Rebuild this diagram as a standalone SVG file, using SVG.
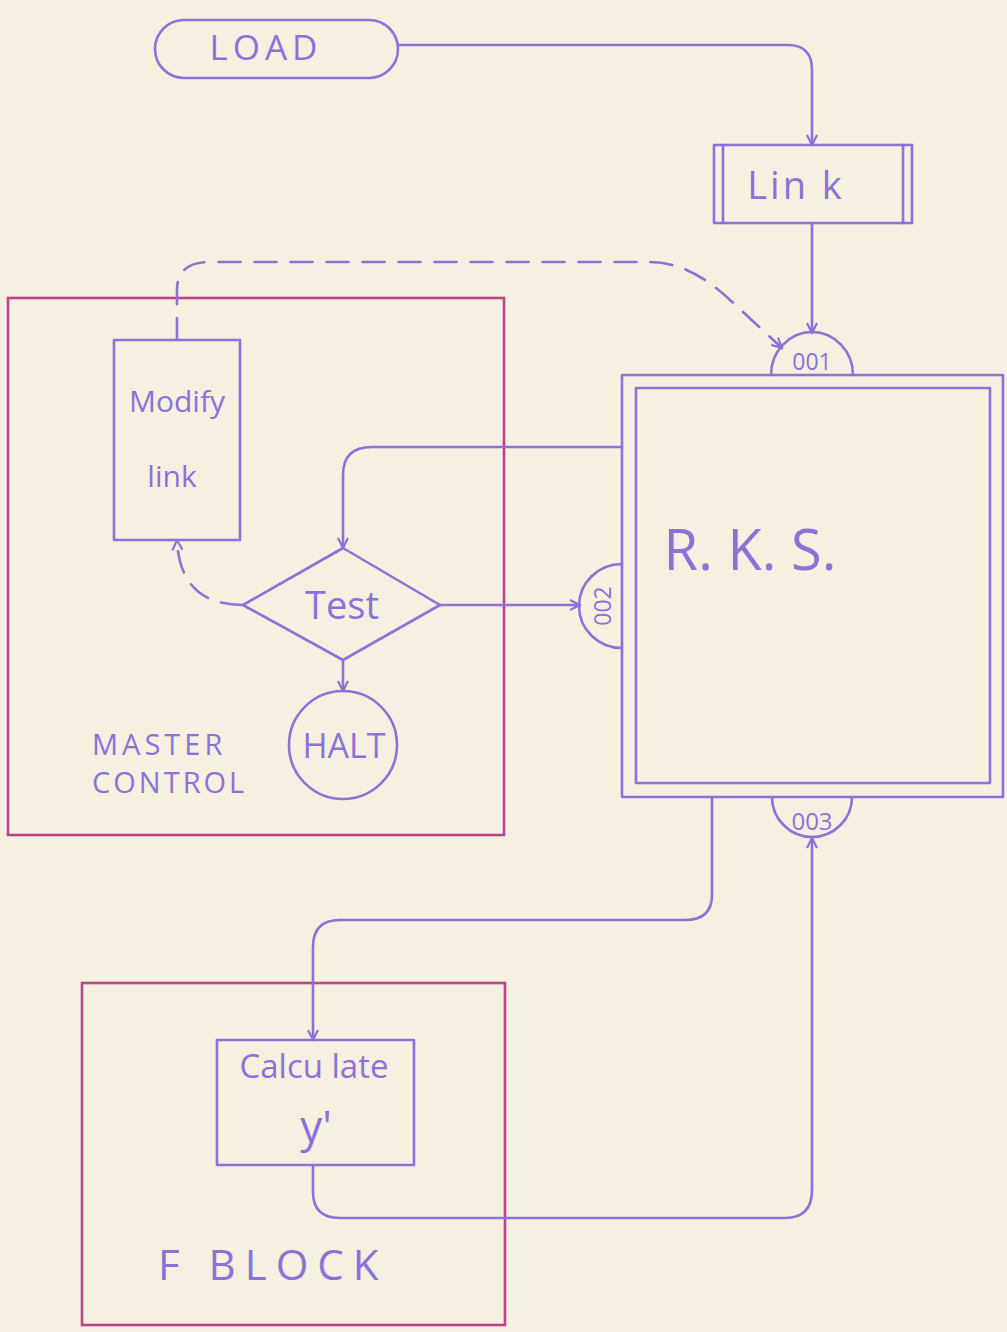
<svg xmlns="http://www.w3.org/2000/svg" width="1007" height="1332" viewBox="0 0 1007 1332">
<defs>
<style>
.p{fill:none;stroke:#8c72d8;stroke-width:2.6;stroke-linecap:round;stroke-linejoin:round}
.m{fill:none;stroke:#b8458a;stroke-width:2.6}
.d{fill:none;stroke:#8c72d8;stroke-width:2.6;stroke-dasharray:22 14;stroke-linecap:round}
.t{fill:#8c72d8;font-family:"Open Sans","DejaVu Sans",sans-serif}
</style>
<marker id="a" viewBox="0 0 12 12" refX="11" refY="6" markerWidth="12" markerHeight="12" markerUnits="userSpaceOnUse" orient="auto">
<path d="M1,1 L11,6 L1,11" fill="none" stroke="#8c72d8" stroke-width="2.2"/>
</marker>
</defs>
<rect width="1007" height="1332" fill="#f5f0df"/>

<g id="master-control">
<rect class="m" x="8" y="298" width="496" height="537"/>
<text class="t" x="92" y="755" font-size="29" letter-spacing="4">MASTER</text>
<text class="t" x="92" y="793" font-size="29" letter-spacing="3">CONTROL</text>
</g>
<g id="f-block">
<rect class="m" x="82" y="983" width="423" height="342"/>
<text class="t" x="158" y="1280" font-size="42" letter-spacing="9">F  BLOCK</text>
</g>

<g id="load">
<rect class="p" x="155" y="20" width="243" height="58" rx="29"/>
<text class="t" x="266" y="60" font-size="35" text-anchor="middle" letter-spacing="5">LOAD</text>
</g>
<g id="link">
<rect class="p" x="714" y="145" width="198" height="78"/>
<line class="p" x1="723" y1="145" x2="723" y2="223"/>
<line class="p" x1="903" y1="145" x2="903" y2="223"/>
<text class="t" x="796" y="199" font-size="38" text-anchor="middle" letter-spacing="3">Lin k</text>
</g>
<g id="modify-link">
<rect class="p" x="114" y="340" width="126" height="200"/>
<text class="t" x="177" y="412" font-size="30" text-anchor="middle">Modify</text>
<text class="t" x="172" y="487" font-size="30" text-anchor="middle">link</text>
</g>
<g id="test">
<path class="p" d="M243,605 L343,548 L440,605 L343,660 Z"/>
<text class="t" x="342" y="619" font-size="38" text-anchor="middle">Test</text>
</g>
<g id="halt">
<circle class="p" cx="343" cy="745" r="54"/>
<text class="t" x="344" y="758" font-size="34" text-anchor="middle">HALT</text>
</g>
<g id="rks">
<rect class="p" x="622" y="375" width="381" height="422"/>
<rect class="p" x="636" y="388" width="354" height="395"/>
<text class="t" x="750" y="570" font-size="56" text-anchor="middle">R. K. S.</text>
</g>
<g id="entry-001">
<path class="p" d="M771,375 A41,43 0 0 1 853,375"/>
<text class="t" x="812" y="370" font-size="23" text-anchor="middle">001</text>
</g>
<g id="entry-002">
<path class="p" d="M622,564 A43,42 0 0 0 622,648"/>
<text class="t" x="604" y="606" font-size="23" text-anchor="middle" transform="rotate(-90 604 606)" dy="7">002</text>
</g>
<g id="entry-003">
<path class="p" d="M772,797 A40,40 0 0 0 852,797"/>
<text class="t" x="812" y="830" font-size="24" text-anchor="middle">003</text>
</g>
<g id="calculate">
<rect class="p" x="217" y="1040" width="197" height="125"/>
<text class="t" x="314" y="1078" font-size="33" text-anchor="middle">Calcu late</text>
<text class="t" x="316" y="1142" font-size="44" text-anchor="middle">y'</text>
</g>

<g id="connectors">
<path class="p" marker-end="url(#a)" d="M398,45 L788,45 Q812,45 812,70 L812,145"/>
<path class="p" marker-end="url(#a)" d="M812,223 L812,333"/>
<path class="d" marker-end="url(#a)" d="M177,340 L177,290 Q177,262 210,262 L650,262 Q690,262 730,300 L782,348"/>
<path class="p" marker-end="url(#a)" d="M622,447 L372,447 Q343,447 343,475 L343,548"/>
<path class="d" marker-end="url(#a)" d="M243,605 Q180,605 177,540"/>
<path class="p" marker-end="url(#a)" d="M440,605 L580,605"/>
<path class="p" marker-end="url(#a)" d="M343,660 L343,691"/>
<path class="p" marker-end="url(#a)" d="M712,797 L712,895 Q712,920 685,920 L340,920 Q313,920 313,947 L313,1040"/>
<path class="p" marker-end="url(#a)" d="M313,1165 L313,1192 Q313,1218 340,1218 L785,1218 Q812,1218 812,1190 L812,838"/>
</g>
</svg>
